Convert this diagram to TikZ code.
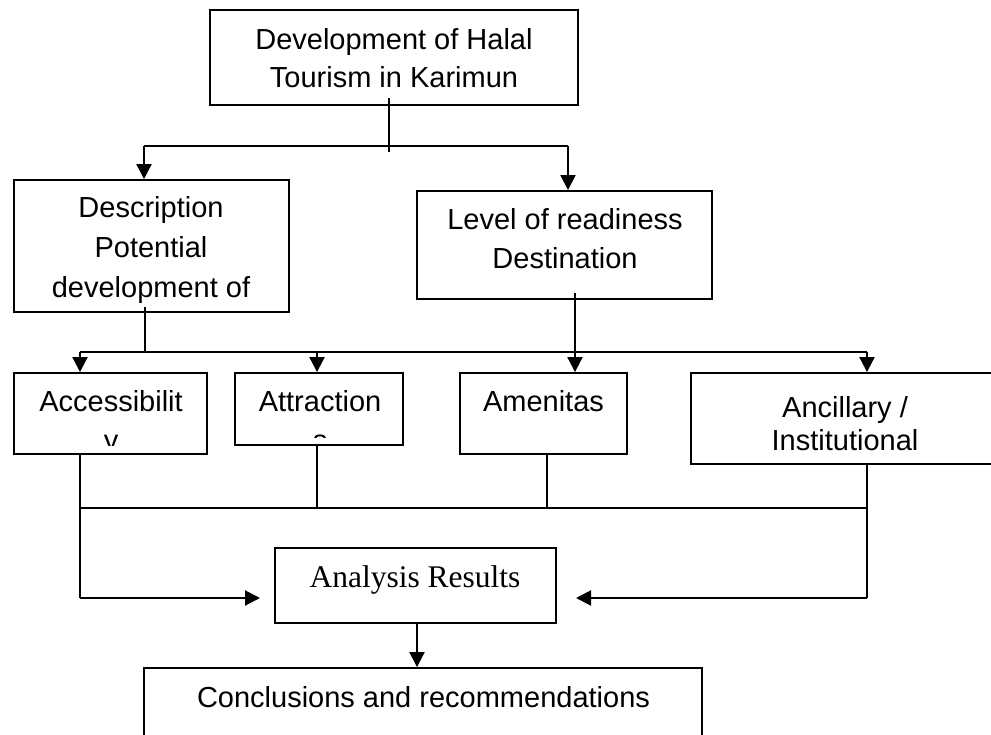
\documentclass[tikz,border=0pt]{standalone}
\usepackage{fontspec}
\newfontfamily\arialf{Liberation Sans}
\newfontfamily\timesf{Liberation Serif}
\usetikzlibrary{arrows.meta}
\begin{document}
\begin{tikzpicture}[x=1pt,y=-1pt,
  box/.style={draw,line width=1.9pt,inner sep=0pt},
  txt/.style={anchor=base,inner sep=0pt,font=\arialf\fontsize{29}{35}\selectfont},
  stxt/.style={anchor=base,inner sep=0pt,font=\timesf\fontsize{31.5}{38}\selectfont},
  conn/.style={line width=2.1pt},
  arr/.style={conn,-{Triangle[width=15pt,length=15pt]}}]
\clip (0,0) rectangle (991,734);

% boxes
\node[box,minimum width=368pt,minimum height=95pt] (top) at (394,57.5) {};
\node[box,minimum width=275pt,minimum height=132pt] (desc) at (151.5,246) {};
\node[box,minimum width=295pt,minimum height=108pt] (level) at (564.5,245) {};
\node[box,minimum width=193pt,minimum height=81pt] (acc) at (110.5,413.5) {};
\node[box,minimum width=168pt,minimum height=72pt] (attr) at (319,409) {};
\node[box,minimum width=167pt,minimum height=81pt] (amen) at (543.5,413.5) {};
\node[box,minimum width=309pt,minimum height=91pt] (anc) at (845.5,418.5) {};
\node[box,minimum width=281pt,minimum height=75pt] (analysis) at (415.5,585.5) {};
\node[box,minimum width=558pt,minimum height=100pt] (concl) at (423,718) {};

% box texts
\node[txt] (top-l1) at (394,49) {Development of Halal};
\node[txt] (top-l2) at (394,87) {Tourism in Karimun};
\node[txt] (desc-l1) at (151,217) {Description};
\node[txt] (desc-l2) at (151,257) {Potential};
\node[txt] (desc-l3) at (151,297) {development of};
\node[txt] (level-l1) at (565,229) {Level of readiness};
\node[txt] (level-l2) at (565,268) {Destination};
\begin{scope}
  \clip (14,373) rectangle (207,445);
  \node[txt] (acc-l1) at (111,411) {Accessibilit};
  \node[txt] (acc-l2) at (111,450) {y};
\end{scope}
\begin{scope}
  \clip (235,373) rectangle (403,437);
  \node[txt] (attr-l1) at (320,411) {Attraction};
  \node[txt] (attr-l2) at (320,450) {s};
\end{scope}
\node[txt] (amen-l1) at (543.5,411) {Amenitas};
\node[txt] (anc-l1) at (845,417) {Ancillary /};
\node[txt] (anc-l2) at (845,450) {Institutional};
\node[stxt] (analysis-l1) at (415,587) {Analysis Results};
\node[txt] (concl-l1) at (423.5,707) {Conclusions and recommendations};

% junction points
\coordinate (s1a) at (389,98);
\coordinate (s1b) at (389,152);
\coordinate (b1l) at (144,146);
\coordinate (b1r) at (568,146);
\coordinate (s2a) at (145,307);
\coordinate (s2b) at (145,352);
\coordinate (b2l) at (80,352);
\coordinate (b2m) at (317,352);
\coordinate (b2r) at (867,352);
\coordinate (s3a) at (575,293);
\coordinate (b3l) at (80,508);
\coordinate (b3r) at (867,508);
\coordinate (l-corner) at (80,598);
\coordinate (l-tip) at (260,598);
\coordinate (r-corner) at (867,598);
\coordinate (r-tip) at (576,598);
\coordinate (s4a) at (417,623);

% first split
\draw[conn] (s1a) -- (s1b);
\draw[conn] (b1l) -- (b1r);
\draw[arr] (b1l) -- (desc.north -| b1l);
\draw[arr] (b1r) -- (level.north -| b1r);

% second split
\draw[conn] (s2a) -- (s2b);
\draw[conn] (b2l) -- (b2r);
\draw[arr] (b2l) -- (acc.north -| b2l);
\draw[arr] (b2m) -- (attr.north -| b2m);
\draw[arr] (b2r) -- (anc.north -| b2r);
\draw[arr] (s3a) -- (amen.north -| s3a);

% gathering lines
\draw[conn] (acc.south -| l-corner) -- (l-corner);
\draw[arr] (l-corner) -- (l-tip);
\draw[conn] (b3l) -- (b3r);
\draw[conn] (attr.south -| b2m) -- (b2m |- b3l);
\draw[conn] (amen.south -| 547,0) -- (547,508);
\draw[conn] (anc.south -| r-corner) -- (r-corner);
\draw[arr] (r-corner) -- (r-tip);
\draw[arr] (s4a) -- (concl.north -| s4a);
\end{tikzpicture}
\end{document}
